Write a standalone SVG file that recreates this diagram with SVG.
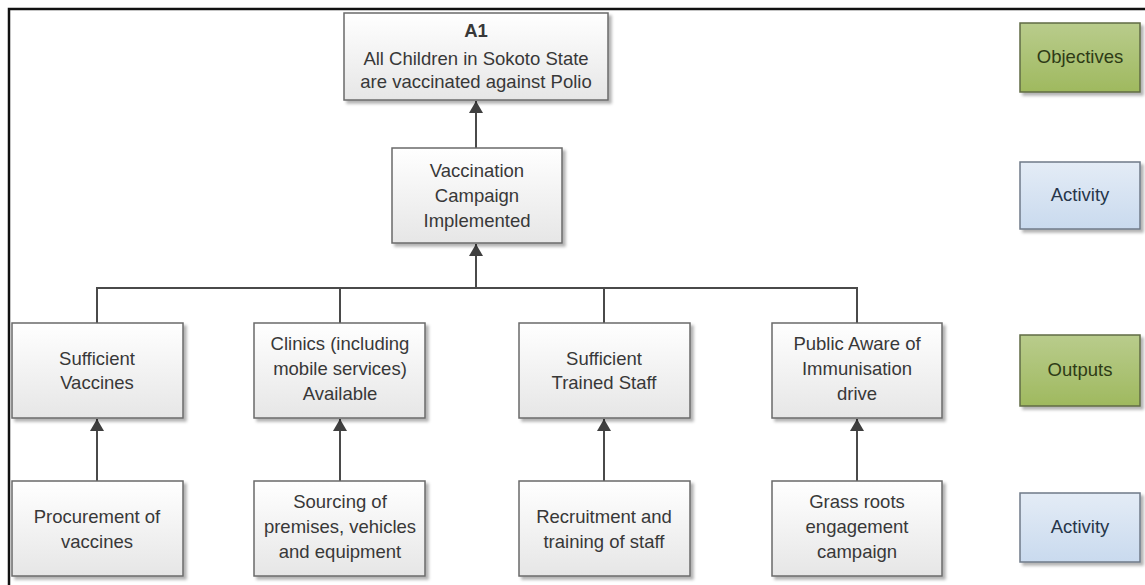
<svg xmlns="http://www.w3.org/2000/svg" width="1145" height="585" viewBox="0 0 1145 585">
  <defs>
    <linearGradient id="boxFill" x1="0" y1="0" x2="0" y2="1">
      <stop offset="0" stop-color="#ffffff"/>
      <stop offset="1" stop-color="#e6e6e6"/>
    </linearGradient>
    <linearGradient id="greenFill" x1="0" y1="0" x2="0" y2="1">
      <stop offset="0" stop-color="#b9cc8c"/>
      <stop offset="1" stop-color="#9fb95f"/>
    </linearGradient>
    <linearGradient id="blueFill" x1="0" y1="0" x2="0" y2="1">
      <stop offset="0" stop-color="#e4ecf6"/>
      <stop offset="1" stop-color="#c9daee"/>
    </linearGradient>
    <filter id="shadow" x="-10%" y="-10%" width="130%" height="130%">
      <feDropShadow dx="3" dy="3" stdDeviation="1.5" flood-color="#000" flood-opacity="0.3"/>
    </filter>
    <marker id="arrow" viewBox="0 0 12 14" refX="12" refY="7" markerWidth="12" markerHeight="14" markerUnits="userSpaceOnUse" orient="auto">
      <path d="M0,0 L12,7 L0,14 Z" fill="#3f3f3f"/>
    </marker>
  </defs>
  <style>
    .box { fill: url(#boxFill); stroke: #6a6a6a; stroke-width: 1.5; filter: url(#shadow); }
    .green { fill: url(#greenFill); stroke: #5f6b45; stroke-width: 1.5; filter: url(#shadow); }
    .blue { fill: url(#blueFill); stroke: #6f7a88; stroke-width: 1.5; filter: url(#shadow); }
    .t { font-family: "Liberation Sans", Arial, sans-serif; font-size: 18.5px; fill: #383838; text-anchor: middle; }
    .b { font-weight: bold; }
    .lg { fill: #2e3b16; }
    .lb { fill: #27364a; }
    .wire { fill: none; stroke: #4a4a4a; stroke-width: 2; }
    .frame { fill: none; stroke: #111; stroke-width: 2.5; }
  </style>

  <rect width="1145" height="585" fill="#ffffff"/>
  <!-- page frame (top and left edges) -->
  <path class="frame" d="M9,585 V9 H1145"/>

  <!-- connectors -->
  <g id="connectors">
    <path class="wire" d="M476,148 V101" marker-end="url(#arrow)"/>
    <path class="wire" d="M97,323 V288 H857 V323 M340,288 V323 M604,288 V323"/>
    <path class="wire" d="M476,288 V244" marker-end="url(#arrow)"/>
    <path class="wire" d="M97,481 V419" marker-end="url(#arrow)"/>
    <path class="wire" d="M340,481 V419" marker-end="url(#arrow)"/>
    <path class="wire" d="M604,481 V419" marker-end="url(#arrow)"/>
    <path class="wire" d="M857,481 V419" marker-end="url(#arrow)"/>
  </g>

  <g id="goal">
    <rect class="box" x="344" y="13" width="264" height="87"/>
    <text class="t b" x="476" y="37">A1</text>
    <text class="t" x="476" y="65">All Children in Sokoto State</text>
    <text class="t" x="476" y="88">are vaccinated against Polio</text>
  </g>

  <g id="campaign">
    <rect class="box" x="392" y="148" width="170" height="95"/>
    <text class="t" x="477" y="177">Vaccination</text>
    <text class="t" x="477" y="202">Campaign</text>
    <text class="t" x="477" y="227">Implemented</text>
  </g>

  <g id="out-vaccines">
    <rect class="box" x="12" y="323" width="171" height="95"/>
    <text class="t" x="97" y="365">Sufficient</text>
    <text class="t" x="97" y="389">Vaccines</text>
  </g>

  <g id="out-clinics">
    <rect class="box" x="254" y="323" width="171" height="95"/>
    <text class="t" x="340" y="350">Clinics (including</text>
    <text class="t" x="340" y="375">mobile services)</text>
    <text class="t" x="340" y="400">Available</text>
  </g>

  <g id="out-staff">
    <rect class="box" x="519" y="323" width="171" height="95"/>
    <text class="t" x="604" y="365">Sufficient</text>
    <text class="t" x="604" y="389">Trained Staff</text>
  </g>

  <g id="out-public">
    <rect class="box" x="772" y="323" width="170" height="95"/>
    <text class="t" x="857" y="350">Public Aware of</text>
    <text class="t" x="857" y="375">Immunisation</text>
    <text class="t" x="857" y="400">drive</text>
  </g>

  <g id="act-procurement">
    <rect class="box" x="12" y="481" width="171" height="95"/>
    <text class="t" x="97" y="523">Procurement of</text>
    <text class="t" x="97" y="548">vaccines</text>
  </g>

  <g id="act-sourcing">
    <rect class="box" x="254" y="481" width="171" height="95"/>
    <text class="t" x="340" y="508">Sourcing of</text>
    <text class="t" x="340" y="533">premises, vehicles</text>
    <text class="t" x="340" y="558">and equipment</text>
  </g>

  <g id="act-recruitment">
    <rect class="box" x="519" y="481" width="171" height="95"/>
    <text class="t" x="604" y="523">Recruitment and</text>
    <text class="t" x="604" y="548">training of staff</text>
  </g>

  <g id="act-grassroots">
    <rect class="box" x="772" y="481" width="170" height="95"/>
    <text class="t" x="857" y="508">Grass roots</text>
    <text class="t" x="857" y="533">engagement</text>
    <text class="t" x="857" y="558">campaign</text>
  </g>

  <!-- level legend -->
  <g id="legend-objectives">
    <rect class="green" x="1020" y="23" width="120" height="69"/>
    <text class="t lg" x="1080" y="63">Objectives</text>
  </g>
  <g id="legend-activity-1">
    <rect class="blue" x="1020" y="162" width="120" height="67"/>
    <text class="t lb" x="1080" y="201">Activity</text>
  </g>
  <g id="legend-outputs">
    <rect class="green" x="1020" y="335" width="120" height="71"/>
    <text class="t lg" x="1080" y="376">Outputs</text>
  </g>
  <g id="legend-activity-2">
    <rect class="blue" x="1020" y="493" width="120" height="69"/>
    <text class="t lb" x="1080" y="533">Activity</text>
  </g>
</svg>
